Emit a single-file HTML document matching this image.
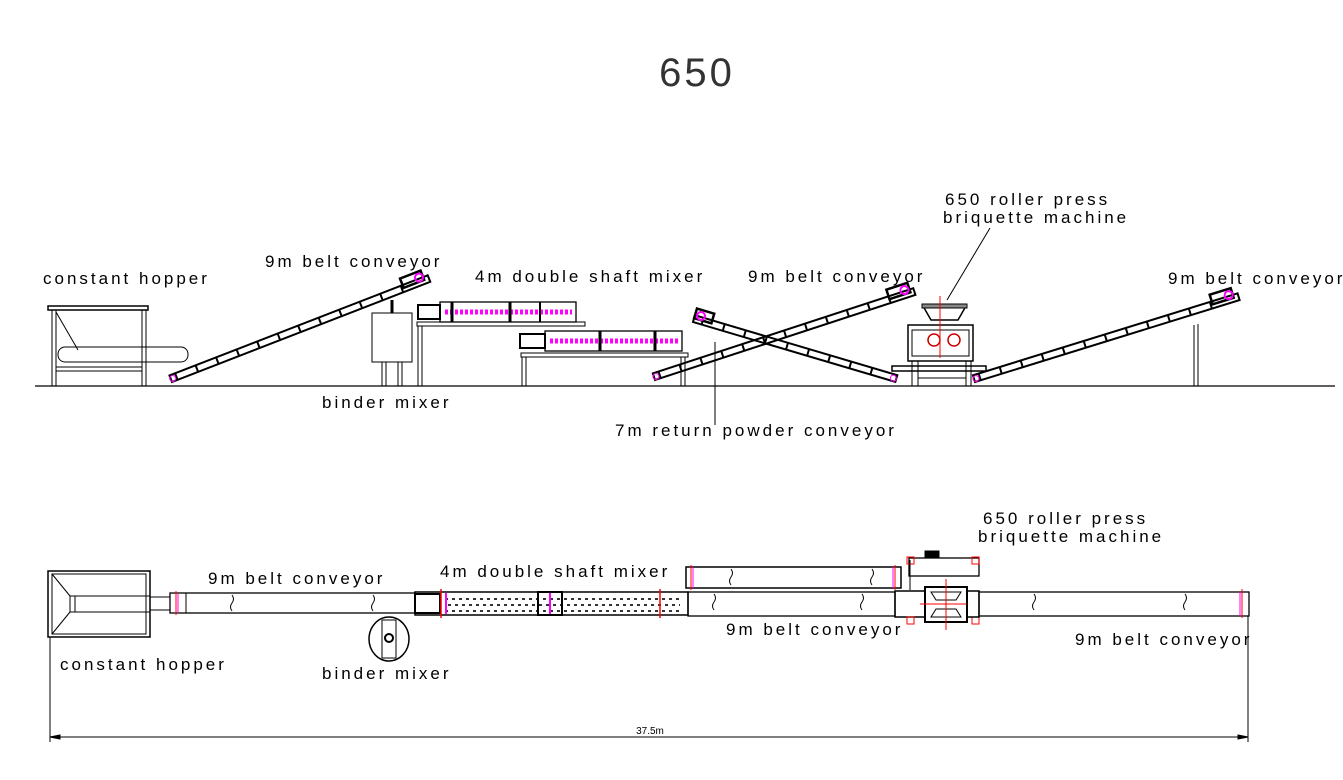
<!DOCTYPE html>
<html><head><meta charset="utf-8"><style>
html,body{margin:0;padding:0;background:#fff;}
svg{display:block}
text{font-family:"Liberation Sans",sans-serif;fill:#000;}
.l{font-size:17px;letter-spacing:3px;}
</style></head><body>
<svg width="1343" height="780" viewBox="0 0 1343 780" xmlns="http://www.w3.org/2000/svg">
<g fill="none" stroke="#000" stroke-width="1">
<line x1="35" y1="386" x2="1335" y2="386" stroke-width="1.2"/>
<rect x="48" y="306" width="100" height="4" stroke-width="1.5"/>
<line x1="52" y1="310" x2="52" y2="386"/><line x1="56" y1="310" x2="56" y2="386"/>
<line x1="142" y1="310" x2="142" y2="386"/><line x1="146" y1="310" x2="146" y2="386"/>
<line x1="56" y1="312" x2="78" y2="350"/>
<rect x="58" y="347" width="130" height="15" rx="7"/>
<line x1="56" y1="367" x2="142" y2="367"/><line x1="56" y1="371" x2="142" y2="371"/>
<g transform="translate(172,382) rotate(-21.2)">
<rect x="0" y="-7" width="277" height="7" stroke-width="2"/>
<line x1="5" y1="-4" x2="265" y2="-4" stroke-width="7" stroke-dasharray="2 20"/>
<rect x="250" y="-14" width="22" height="10" stroke-width="2.5"/>
<circle cx="2" cy="-3" r="3" stroke="#f0f"/><circle cx="268" cy="-8" r="4" stroke="#f0f" stroke-width="2"/>
</g>
<g transform="translate(655,380) rotate(-18.1)">
<rect x="0" y="-7" width="274" height="7" stroke-width="2"/>
<line x1="5" y1="-4" x2="262" y2="-4" stroke-width="7" stroke-dasharray="2 20"/>
<rect x="248" y="-14" width="22" height="10" stroke-width="2.5"/>
<circle cx="2" cy="-3" r="3" stroke="#f0f"/><circle cx="265" cy="-8" r="4" stroke="#f0f" stroke-width="2"/>
</g>
<g transform="translate(693,322) rotate(16.5)">
<rect x="0" y="-7" width="211" height="7" stroke-width="2"/>
<line x1="8" y1="-4" x2="205" y2="-4" stroke-width="7" stroke-dasharray="2 20"/>
<rect x="0" y="-14" width="18" height="10" stroke-width="2.5"/>
<circle cx="6" cy="-8" r="4" stroke="#f0f" stroke-width="2"/><circle cx="208" cy="-3" r="3" stroke="#f0f"/>
</g>
<g transform="translate(975,382) rotate(-17.2)">
<rect x="0" y="-7" width="277" height="7" stroke-width="2"/>
<line x1="5" y1="-4" x2="265" y2="-4" stroke-width="7" stroke-dasharray="2 20"/>
<rect x="250" y="-14" width="22" height="10" stroke-width="2.5"/>
<circle cx="2" cy="-3" r="3" stroke="#f0f"/><circle cx="268" cy="-8" r="4" stroke="#f0f" stroke-width="2"/>
</g>
<line x1="1194" y1="325" x2="1194" y2="386"/><line x1="1198" y1="324" x2="1198" y2="386"/>
<rect x="372" y="313" width="40" height="49"/>
<line x1="382" y1="362" x2="382" y2="386"/><line x1="386" y1="362" x2="386" y2="386"/>
<line x1="398" y1="362" x2="398" y2="386"/><line x1="402" y1="362" x2="402" y2="386"/>
<line x1="392" y1="300" x2="392" y2="313" stroke-width="3"/>
<rect x="417" y="322" width="168" height="4"/>
<line x1="418" y1="326" x2="418" y2="386"/><line x1="422" y1="326" x2="422" y2="386"/>
<rect x="440" y="302" width="136" height="20" stroke-width="1.3"/>
<rect x="418" y="305" width="22" height="14" stroke-width="2"/>
<line x1="445" y1="312" x2="572" y2="312" stroke="#f0f" stroke-width="5" stroke-dasharray="3 2"/>
<line x1="452" y1="302" x2="452" y2="322" stroke-width="3"/><line x1="510" y1="302" x2="510" y2="322" stroke-width="3"/><line x1="540" y1="302" x2="540" y2="322" stroke-width="2"/>
<rect x="521" y="353" width="167" height="4"/>
<line x1="522" y1="357" x2="522" y2="386"/><line x1="526" y1="357" x2="526" y2="386"/>
<line x1="681" y1="357" x2="681" y2="386"/><line x1="685" y1="357" x2="685" y2="386"/>
<rect x="545" y="331" width="137" height="20" stroke-width="1.3"/>
<rect x="520" y="334" width="25" height="14" stroke-width="2"/>
<line x1="550" y1="341" x2="680" y2="341" stroke="#f0f" stroke-width="5" stroke-dasharray="3 2"/>
<line x1="600" y1="331" x2="600" y2="351" stroke-width="3"/><line x1="655" y1="331" x2="655" y2="351" stroke-width="3"/>
<polygon points="923,306 966,306 958,320 931,320" stroke-width="1.5"/>
<rect x="922" y="304" width="45" height="4" fill="#888"/>
<rect x="908" y="325" width="65" height="36" stroke-width="1.5"/>
<rect x="912" y="330" width="57" height="26"/>
<circle cx="934" cy="340" r="6" stroke="#c00" stroke-width="1.5"/><circle cx="954" cy="340" r="6" stroke="#c00" stroke-width="1.5"/>
<line x1="940" y1="296" x2="940" y2="358" stroke="#f00"/>
<rect x="892" y="366" width="94" height="5" stroke-width="1.5"/>
<line x1="912" y1="361" x2="912" y2="386"/><line x1="918" y1="361" x2="918" y2="386"/><line x1="966" y1="361" x2="966" y2="386"/><line x1="971" y1="361" x2="971" y2="386"/>
<line x1="918" y1="378" x2="966" y2="378"/>
<line x1="990" y1="228" x2="947" y2="300"/>
<line x1="715" y1="342" x2="715" y2="425"/>

<rect x="48" y="571" width="102" height="66" stroke-width="1.5"/>
<rect x="52" y="574" width="94" height="60"/>
<line x1="52" y1="574" x2="70" y2="596"/><line x1="52" y1="634" x2="70" y2="612"/>
<line x1="70" y1="596" x2="150" y2="596"/><line x1="70" y1="612" x2="150" y2="612"/>
<line x1="70" y1="596" x2="70" y2="612"/><line x1="75" y1="596" x2="75" y2="612"/>
<rect x="170" y="593" width="245" height="20" stroke-width="1.3"/>
<line x1="150" y1="597" x2="170" y2="597"/><line x1="150" y1="610" x2="170" y2="610"/>
<line x1="176" y1="591" x2="176" y2="615" stroke="#f00"/><line x1="178" y1="594" x2="178" y2="612" stroke="#f0f"/>
<line x1="186" y1="593" x2="186" y2="613"/>
<rect x="415" y="592" width="273" height="23" stroke-width="1.5"/>
<rect x="415" y="594" width="25" height="19" stroke-width="2"/>
<line x1="445" y1="599" x2="680" y2="599" stroke="#333" stroke-width="2" stroke-dasharray="3 4"/>
<line x1="448" y1="605" x2="680" y2="605" stroke="#333" stroke-width="2" stroke-dasharray="3 4"/>
<line x1="445" y1="611" x2="680" y2="611" stroke="#333" stroke-width="2" stroke-dasharray="3 4"/>
<line x1="441" y1="589" x2="441" y2="618" stroke="#f00" stroke-width="1.5"/>
<line x1="446" y1="593" x2="446" y2="614" stroke="#f0f" stroke-width="2"/>
<line x1="550" y1="593" x2="550" y2="614" stroke="#f0f" stroke-width="2"/>
<line x1="660" y1="589" x2="660" y2="618" stroke="#f00" stroke-width="1.5"/>
<rect x="538" y="592" width="24" height="23" stroke-width="2"/>
<ellipse cx="389" cy="639" rx="20" ry="22" stroke-width="1.5"/>
<rect x="382" y="620" width="14" height="38"/>
<circle cx="389" cy="638" r="4" stroke-width="2"/>
<rect x="686" y="567" width="215" height="21" stroke-width="1.5"/>
<line x1="691" y1="565" x2="691" y2="590" stroke="#f00"/><line x1="693" y1="567" x2="693" y2="588" stroke="#f0f"/>
<line x1="895" y1="565" x2="895" y2="590" stroke="#f00"/><line x1="893" y1="567" x2="893" y2="588" stroke="#f0f"/>
<rect x="688" y="592" width="207" height="24" stroke-width="1.3"/>
<rect x="895" y="591" width="30" height="26" stroke-width="1.5"/>
<rect x="925" y="587" width="42" height="35" stroke-width="2"/>
<polygon points="931,592 961,592 956,600 936,600" /><polygon points="931,617 961,617 956,609 936,609"/>
<line x1="946" y1="579" x2="946" y2="630" stroke="#f00"/>
<line x1="920" y1="604" x2="968" y2="604" stroke="#f00"/>
<rect x="909" y="558" width="70" height="18" stroke-width="1.3"/>
<rect x="907" y="557" width="7" height="7" stroke="#f00"/><rect x="972" y="557" width="7" height="7" stroke="#f00"/>
<rect x="907" y="617" width="7" height="7" stroke="#f00"/><rect x="972" y="617" width="7" height="7" stroke="#f00"/>
<line x1="910" y1="560" x2="910" y2="590"/>
<rect x="925" y="551" width="14" height="6" fill="#000"/>
<rect x="967" y="591" width="12" height="26" stroke-width="1.5"/>
<rect x="979" y="592" width="270" height="24" stroke-width="1.3"/>
<line x1="1242" y1="589" x2="1242" y2="618" stroke="#f00"/><line x1="1240" y1="592" x2="1240" y2="616" stroke="#f0f"/>
<path d="M232 595 q3 4 0 8 q-3 4 0 8"/><path d="M373 595 q3 4 0 8 q-3 4 0 8"/>
<path d="M731 569 q3 4 0 8 q-3 4 0 8"/><path d="M872 569 q3 4 0 8 q-3 4 0 8"/>
<path d="M714 594 q3 4 0 8 q-3 4 0 8"/><path d="M862 594 q3 4 0 8 q-3 4 0 8"/>
<path d="M1034 594 q3 4 0 8 q-3 4 0 8"/><path d="M1185 594 q3 4 0 8 q-3 4 0 8"/>
<line x1="50" y1="637" x2="50" y2="742"/><line x1="1248" y1="616" x2="1248" y2="742"/>
<line x1="50" y1="737" x2="1248" y2="737"/>
<polygon points="50,737 60,735 60,739" fill="#000"/><polygon points="1248,737 1238,735 1238,739" fill="#000"/>
</g>
<text x="697" y="86" text-anchor="middle" style="font-size:40px;letter-spacing:3px;fill:#333">650</text>
<text class="l" x="43" y="284">constant hopper</text>
<text class="l" x="265" y="267">9m belt conveyor</text>
<text class="l" x="475" y="282">4m double shaft mixer</text>
<text class="l" x="748" y="282">9m belt conveyor</text>
<text class="l" x="945" y="205">650 roller press</text>
<text class="l" x="943" y="223">briquette machine</text>
<text class="l" x="1168" y="284">9m belt conveyor</text>
<text class="l" x="322" y="408">binder mixer</text>
<text class="l" x="615" y="436">7m return powder conveyor</text>
<text class="l" x="983" y="524">650 roller press</text>
<text class="l" x="978" y="542">briquette machine</text>
<text class="l" x="208" y="584">9m belt conveyor</text>
<text class="l" x="440" y="577">4m double shaft mixer</text>
<text class="l" x="60" y="670">constant hopper</text>
<text class="l" x="322" y="679">binder mixer</text>
<text class="l" x="726" y="635">9m belt conveyor</text>
<text class="l" x="1075" y="645">9m belt conveyor</text>
<text x="650" y="734" text-anchor="middle" style="font-size:10px">37.5m</text>
</svg>
</body></html>
